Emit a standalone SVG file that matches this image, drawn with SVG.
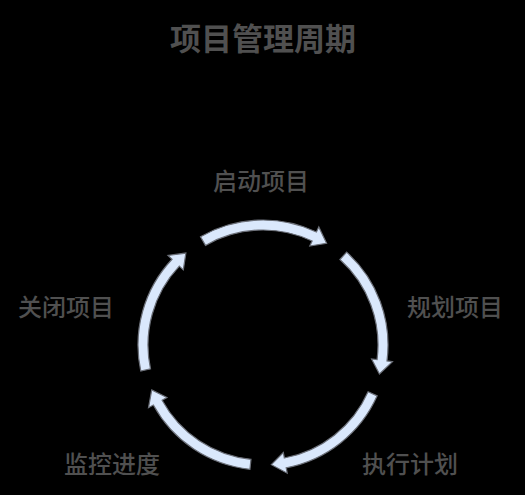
<svg xmlns="http://www.w3.org/2000/svg" xmlns:xlink="http://www.w3.org/1999/xlink" width="525" height="495" viewBox="0 0 525 495">
<style>
.lbl{font-family:"Noto Sans CJK SC","Noto Sans",sans-serif;font-size:24px;font-weight:500;fill:#505050;text-anchor:middle}
.title{font-family:"Noto Sans CJK SC","Noto Sans",sans-serif;font-size:31px;font-weight:bold;fill:#505050;text-anchor:middle}
.arr{fill:#dae8fc;stroke:#6b6f78;stroke-width:1.2;stroke-linejoin:miter}
</style>
<defs>
<path id="arc" class="arr" d="M200.5,236.75 A125,125 0 0 1 316.43,231.99 L318.78,227.01 L326.59,243.24 L309.80,246.00 L312.15,241.03 A115,115 0 0 0 205.5,245.41 Z"/>
</defs>
<rect x="0" y="0" width="525" height="495" fill="#000"/>
<g id="title"><text class="title" x="263" y="50">项目管理周期</text></g>
<g id="connectors">
<use xlink:href="#arc" href="#arc"/>
<use xlink:href="#arc" href="#arc" transform="rotate(72 263 345)"/>
<use xlink:href="#arc" href="#arc" transform="rotate(144 263 345)"/>
<use xlink:href="#arc" href="#arc" transform="rotate(216 263 345)"/>
<use xlink:href="#arc" href="#arc" transform="rotate(288 263 345)"/>
</g>
<g id="start"><text class="lbl" x="261" y="190">启动项目</text></g>
<g id="plan"><text class="lbl" x="455" y="316">规划项目</text></g>
<g id="execute"><text class="lbl" x="410" y="473">执行计划</text></g>
<g id="monitor"><text class="lbl" x="112" y="473">监控进度</text></g>
<g id="close"><text class="lbl" x="66" y="316">关闭项目</text></g>
</svg>
